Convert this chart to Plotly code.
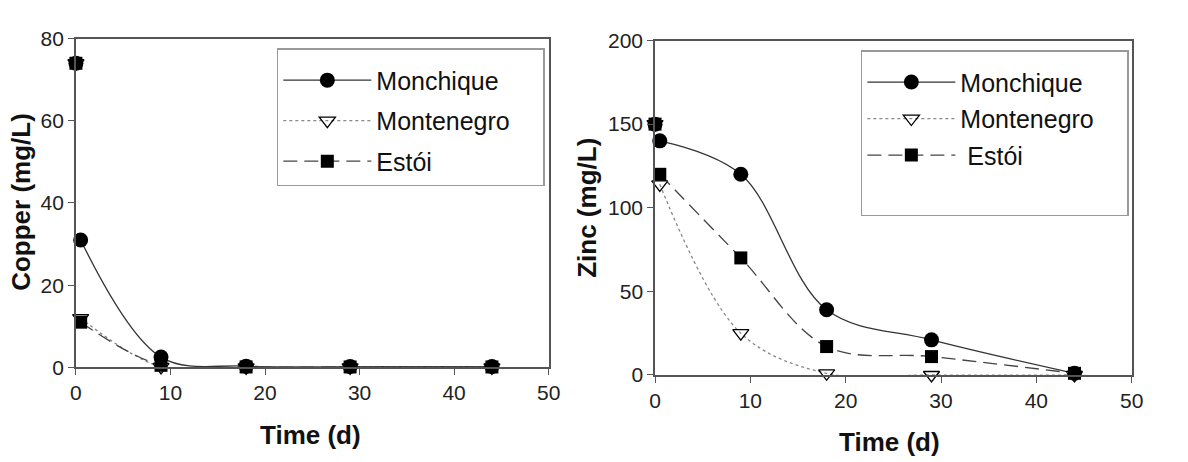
import plotly.graph_objects as go

# ---------------- data ----------------
time_cu = [0, 0.5, 9, 18, 29, 44]
cu_monchique = [74, 31, 2.5, 0.3, 0.2, 0.2]
cu_montenegro = [74, 12, 0.1, 0, 0, 0]
cu_estoi = [74, 11, 0.5, 0.1, 0.1, 0.1]

time_zn = [0, 0.5, 9, 18, 29, 44]
zn_monchique = [150, 140, 120, 39, 21, 1]
zn_montenegro = [150, 114, 25, 1, 0, 0]
zn_estoi = [150, 120, 70, 17, 11, 1]

PAD = "\u00a0" * 4  # invisible right padding inside the legend box
names_cu = ["Monchique", "Montenegro" + PAD, "Estói"]
names_zn = ["Monchique", "Montenegro" + PAD, " Estói"]

x_ticks = [0, 10, 20, 30, 40, 50]
cu_ticks = [0, 20, 40, 60, 80]
zn_ticks = [0, 50, 100, 150, 200]

# ---------------- styles ----------------
FONT = "Liberation Sans, Arial, sans-serif"
styles = [
    dict(line=dict(color="#333333", width=1.3, dash="solid"),
         marker=dict(symbol="circle", size=15, color="black")),
    dict(line=dict(color="#888888", width=1.3, dash="dot"),
         marker=dict(symbol="triangle-down-open", size=14, color="black",
                     line=dict(width=1.3, color="black"))),
    dict(line=dict(color="#444444", width=1.3, dash="14px,7px"),
         marker=dict(symbol="square", size=13, color="black")),
]

fig = go.Figure()

def add_panel(times, series, names, xa, ya, legend):
    for vals, st in zip(series, styles):
        # initial point (time 0): marker only
        fig.add_trace(go.Scatter(
            x=times[:1], y=vals[:1], mode="markers", marker=st["marker"],
            xaxis=xa, yaxis=ya, showlegend=False, cliponaxis=False,
            hoverinfo="skip"))
    for i, (vals, name, st) in enumerate(zip(series, names, styles)):
        fig.add_trace(go.Scatter(
            x=times[1:], y=vals[1:], mode="lines+markers", name=name,
            line=dict(shape="spline", smoothing=1.0, **st["line"]),
            marker=st["marker"], xaxis=xa, yaxis=ya, legend=legend,
            legendgroup=legend + str(i), cliponaxis=False))

add_panel(time_cu, [cu_monchique, cu_montenegro, cu_estoi], names_cu, "x", "y", "legend")
add_panel(time_zn, [zn_monchique, zn_montenegro, zn_estoi], names_zn, "x2", "y2", "legend2")

# empty spacer entry: the right-hand legend box is taller than its content
fig.add_trace(go.Scatter(x=[None], y=[None], mode="lines", name=" ",
                         line=dict(width=0, color="rgba(0,0,0,0)"),
                         xaxis="x2", yaxis="y2", legend="legend2",
                         legendgroup="legend2_spacer", hoverinfo="skip"))

W, H = 1188, 462
def px_x(p):
    return p / W
def px_y(p):
    return 1 - p / H

axis_common = dict(showline=True, linecolor="#555555", linewidth=1.5, mirror=True,
                   ticks="outside", ticklen=6, tickcolor="#555555", tickwidth=1.3,
                   showgrid=False, zeroline=False,
                   tickfont=dict(family=FONT, size=21, color="#222222"))

legend_common = dict(xanchor="left", yanchor="top", bordercolor="#999999",
                     borderwidth=1.5, bgcolor="white",
                     font=dict(family=FONT, size=25, color="#111111"),
                     itemwidth=88,
                     title=dict(text=" ", font=dict(family=FONT, size=6)))

fig.update_layout(
    width=W, height=H,
    margin=dict(l=0, r=0, t=0, b=0),
    paper_bgcolor="white", plot_bgcolor="white",
    font=dict(family=FONT, color="#111111"),
    xaxis=dict(domain=[px_x(71), px_x(551)], range=[0, 50], tickvals=x_ticks,
               anchor="y", **axis_common),
    yaxis=dict(domain=[px_y(374), px_y(28)], range=[0, 80], tickvals=cu_ticks,
               anchor="x", **axis_common),
    xaxis2=dict(domain=[px_x(659), px_x(1143)], range=[0, 50], tickvals=x_ticks,
                anchor="y2", **axis_common),
    yaxis2=dict(domain=[px_y(382), px_y(30)], range=[0, 200], tickvals=zn_ticks,
                anchor="x2", **axis_common),
    legend=dict(x=px_x(275), y=px_y(38), tracegroupgap=5, **legend_common),
    legend2=dict(x=px_x(868), y=px_y(40), tracegroupgap=1, **legend_common),
    showlegend=True,
)

title_font = dict(family=FONT, size=26, color="#111111")
annotations = [
    dict(text="<b>Time (d)</b>", x=px_x(309), y=px_y(445), xref="paper", yref="paper",
         xanchor="center", yanchor="middle", showarrow=False, font=title_font),
    dict(text="<b>Time (d)</b>", x=px_x(897), y=px_y(453), xref="paper", yref="paper",
         xanchor="center", yanchor="middle", showarrow=False, font=title_font),
    dict(text="<b>Copper (mg/L)</b>", x=px_x(15), y=px_y(200), xref="paper", yref="paper",
         xanchor="center", yanchor="middle", showarrow=False, textangle=-90, font=title_font),
    dict(text="<b>Zinc (mg/L)</b>", x=px_x(590), y=px_y(206), xref="paper", yref="paper",
         xanchor="center", yanchor="middle", showarrow=False, textangle=-90, font=title_font),
]
fig.update_layout(annotations=annotations)

fig.write_html("out.html")
